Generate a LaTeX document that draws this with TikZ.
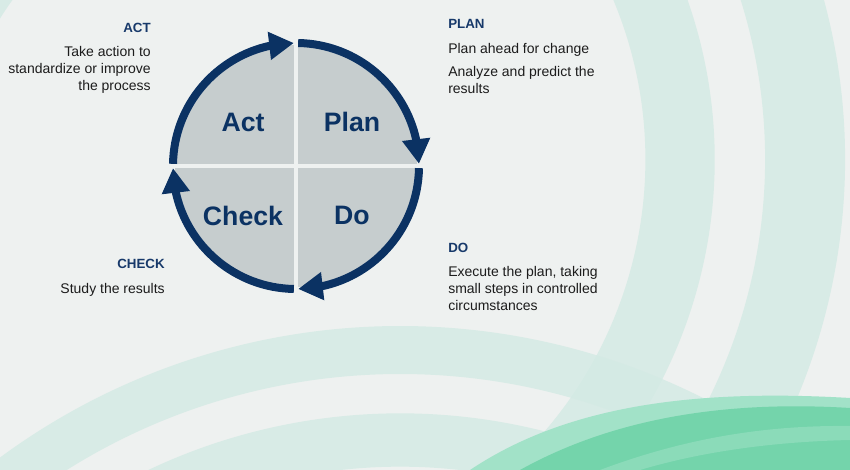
\documentclass[tikz,border=0pt]{standalone}
\usepackage{fontspec}
\setmainfont{Liberation Sans}
\usetikzlibrary{arrows.meta,bending}

\definecolor{navy}{HTML}{0B3263}
\definecolor{headblue}{HTML}{17396A}
\definecolor{bodytext}{HTML}{1C1C1C}
\definecolor{paper}{HTML}{EEF1F0}
\definecolor{mint}{HTML}{D3EAE4}
\definecolor{quadgrey}{HTML}{B9C2C3}
\definecolor{swoosh}{HTML}{74D4AB}
\definecolor{swooshlight}{HTML}{A2E2C8}

\tikzset{
	cyclearrow/.style={line width=6pt,draw=navy,-{Triangle[width=20pt,length=18.5pt]}},
	divider/.style={line width=3pt,draw=paper},
	quad/.style={font=\fontsize{20}{24}\selectfont\bfseries,text=navy,inner sep=0pt},
	head/.style={font=\fontsize{10}{12}\selectfont\bfseries,text=headblue,inner sep=0pt},
	body/.style={font=\fontsize{10.5}{12.75}\selectfont,text=bodytext,inner sep=0pt},
	band/.style={draw=mint,opacity=0.8}
}

\begin{document}
\begin{tikzpicture}[x=0.75pt,y=0.75pt]
	\useasboundingbox (0,0) rectangle (850,470);
	\clip (0,0) rectangle (850,470);
	% background
	\fill[paper] (0,0) rectangle (850,470);
	\coordinate (R) at (230,310);
	\draw[band,line width=52pt] (R) ++(-60:450) arc[start angle=-60,end angle=60,radius=450];
	\draw[band,line width=60pt] (R) ++(-60:575) arc[start angle=-60,end angle=60,radius=575];
	\draw[band,line width=45pt] (R) ++(70:300) arc[start angle=70,end angle=170,radius=300];
	\coordinate (B) at (400,-530);
	\draw[band,line width=36pt] (B) ++(60:650) arc[start angle=60,end angle=130,radius=650];
	\draw[band,line width=40pt] (B) ++(55:560) arc[start angle=55,end angle=135,radius=560];
	\draw[band,line width=30pt] (B) ++(60:470) arc[start angle=60,end angle=120,radius=470];
	\fill[swooshlight] (470,0) .. controls (560,60) and (680,82) .. (850,72) -- (850,0) -- cycle;
	\fill[swoosh] (520,0) .. controls (610,50) and (720,70) .. (850,62) -- (850,0) -- cycle;
	\fill[swooshlight,opacity=0.5] (600,0) .. controls (680,30) and (760,45) .. (850,44) -- (850,30) .. controls (760,28) and (690,15) .. (640,0) -- cycle;

	% cycle
	\coordinate (O) at (296,304);
	\fill[quadgrey,opacity=0.75] (O) circle[radius=121];
	\draw[divider] (O) ++(-124,0) -- ++(248,0);
	\draw[divider] (O) ++(0,-124) -- ++(0,248);
	\draw[cyclearrow] (O) ++(179:123) arc[start angle=179,end angle=91,radius=123];
	\draw[cyclearrow] (O) ++(89:123) arc[start angle=89,end angle=1,radius=123];
	\draw[cyclearrow] (O) ++(-1:123) arc[start angle=-1,end angle=-89,radius=123];
	\draw[cyclearrow] (O) ++(-91:123) arc[start angle=-91,end angle=-179,radius=123];

	\node[quad] (act) at (243,348) {Act};
	\node[quad] (plan) at (352,348) {Plan};
	\node[quad] (check) at (243,254.5) {Check};
	\node[quad] (do) at (352,255) {Do};

	% side texts
	\node[head,anchor=base east] (acthead) at (151,437.3) {ACT};
	\node[body,anchor=north east,align=right] (acttext) at (151,423.5) {Take action to\\standardize or improve\\the process};
	\node[head,anchor=base west] (planhead) at (448,441.7) {PLAN};
	\node[body,anchor=base west] (plantext) at (448,416.7) {Plan ahead for change};
	\node[body,anchor=north west,align=left] (plantextb) at (448,403.5) {Analyze and predict the\\results};
	\node[head,anchor=base west] (dohead) at (448,217.3) {DO};
	\node[body,anchor=north west,align=left] (dotext) at (448,204.2) {Execute the plan, taking\\small steps in controlled\\circumstances};
	\node[head,anchor=base east] (checkhead) at (165,201.7) {CHECK};
	\node[body,anchor=base east] (checktext) at (165,176.7) {Study the results};
\end{tikzpicture}
\end{document}
